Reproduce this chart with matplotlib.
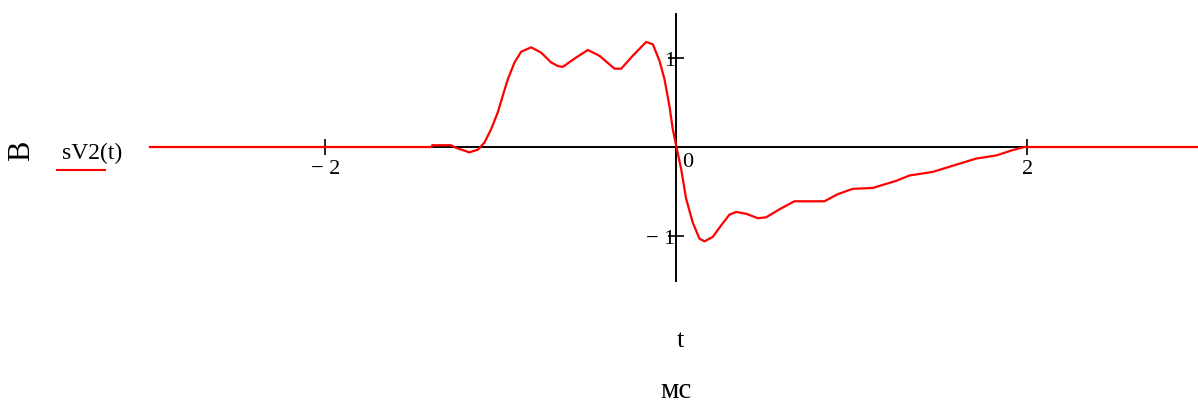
import numpy as np
import matplotlib.pyplot as plt

plt.rcParams['font.family'] = ['Liberation Serif', 'DejaVu Serif']

# sV2(t), t in ms, value in V
t_ms = [-3.0, -1.395, -1.392, -1.284, -1.255, -1.18, -1.132, -1.094, -1.056,
        -1.018, -0.99, -0.961, -0.923, -0.885, -0.828, -0.771, -0.714, -0.676,
        -0.648, -0.572, -0.505, -0.439, -0.353, -0.315, -0.249, -0.173, -0.135,
        -0.097, -0.068, -0.04, -0.021, 0.0, 0.027, 0.055, 0.093, 0.131, 0.16,
        0.207, 0.255, 0.302, 0.34, 0.397, 0.464, 0.511, 0.587, 0.672, 0.843,
        0.919, 1.005, 1.119, 1.252, 1.328, 1.46, 1.575, 1.708, 1.822, 1.916,
        1.983, 3.0]
sv2 = [0.0, 0.0, 0.02, 0.02, -0.01, -0.06, -0.03, 0.05, 0.20,
       0.39, 0.575, 0.76, 0.95, 1.07, 1.12, 1.06, 0.95, 0.91,
       0.90, 1.005, 1.09, 1.025, 0.88, 0.88, 1.025, 1.18, 1.155,
       0.97, 0.76, 0.46, 0.20, 0.0, -0.25, -0.58, -0.85, -1.03, -1.06,
       -1.01, -0.88, -0.76, -0.73, -0.75, -0.80, -0.79, -0.70, -0.61, -0.61,
       -0.53, -0.47, -0.46, -0.38, -0.32, -0.28, -0.21, -0.13, -0.095, -0.035,
       0.0, 0.0]
x_ticks = [-2, 2]
x_labels = ['\u2212 2', '2']
y_ticks = [-1, 1]
y_labels = ['\u2212 1', '1']

fig = plt.figure(figsize=(11.98, 4.06), dpi=100)
ax = fig.add_axes([150 / 1198, 1 - 281.5 / 406, 1048 / 1198, 267 / 406])
ax.set_xlim(-3, 2.972)
ax.set_ylim(-1.5, 1.5)

ax.plot(t_ms, sv2, color='#ff0000', lw=1.6, zorder=3, clip_on=False)

for s in ['top', 'right']:
    ax.spines[s].set_visible(False)
ax.spines['left'].set_position(('data', 0))
ax.spines['bottom'].set_position(('data', 0))
ax.spines['left'].set_linewidth(1.4)
ax.spines['bottom'].set_linewidth(1.4)
ax.set_xticks(x_ticks)
ax.set_xticklabels(x_labels)
ax.set_yticks(y_ticks)
ax.set_yticklabels(y_labels)
ax.tick_params(axis='both', direction='inout', length=12, width=1.2, labelsize=16)
ax.tick_params(axis='x', pad=3)
ax.tick_params(axis='y', pad=-5)
ax.patch.set_visible(False)

ax.text(0.03, -0.06, '0', fontsize=16, ha='left', va='top')

fig.text(21.7 / 1198, 1 - 151 / 406, '\u0412', fontsize=22, rotation=90,
         ha='center', va='center')
fig.text(92 / 1198, 1 - 153 / 406, 'sV2(t)', fontsize=17, ha='center', va='center')
fig.add_artist(plt.Line2D([57 / 1198, 105 / 1198], [1 - 171 / 406, 1 - 171 / 406],
                          color='#ff0000', lw=1.5))
fig.text(680 / 1198, 1 - 341 / 406, 't', fontsize=19, ha='center', va='center')
fig.text(676 / 1198, 1 - 391 / 406, '\u043c\u0441', fontsize=21, ha='center', va='center')

fig.savefig('out.png', dpi=100)
